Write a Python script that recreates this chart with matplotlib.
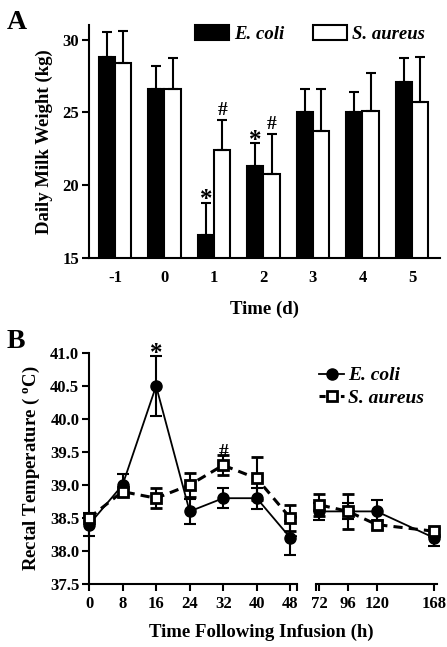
import numpy as np
import matplotlib
matplotlib.use('Agg')
import matplotlib.pyplot as plt
from matplotlib.patches import Patch
from matplotlib.lines import Line2D

plt.rcParams['font.family'] = ['Liberation Serif', 'DejaVu Serif']
plt.rcParams['font.weight'] = 'bold'
plt.rcParams['axes.unicode_minus'] = False
plt.rcParams['mathtext.fontset'] = 'custom'
plt.rcParams['mathtext.rm'] = 'Liberation Serif:bold'
plt.rcParams['mathtext.it'] = 'Liberation Serif:bold'
plt.rcParams['mathtext.bf'] = 'Liberation Serif:bold'

# panel A: daily milk weight
days = [-1, 0, 1, 2, 3, 4, 5]
milk_ecoli = [28.8, 26.6, 16.6, 21.3, 25.0, 25.0, 27.1]
milk_ecoli_err = [1.7, 1.6, 2.2, 1.6, 1.6, 1.4, 1.6]
milk_saureus = [28.4, 26.6, 22.4, 20.8, 23.7, 25.1, 25.7]
milk_saureus_err = [2.2, 2.1, 2.1, 2.7, 2.9, 2.6, 3.1]
star_days = [1, 2]
hash_days = [1, 2]

# panel B: rectal temperature
hours = [0, 8, 16, 24, 32, 40, 48, 72, 96, 120, 168]
temp_ecoli = [38.4, 39.0, 40.5, 38.6, 38.8, 38.8, 38.2, 38.6, 38.6, 38.6, 38.2]
temp_ecoli_err = [0.17, 0.17, 0.45, 0.19, 0.15, 0.16, 0.26, 0.13, 0.12, 0.18, 0.12]
temp_saureus = [38.5, 38.9, 38.8, 39.0, 39.3, 39.1, 38.5, 38.7, 38.6, 38.4, 38.3]
temp_saureus_err = [0.05, 0.05, 0.15, 0.18, 0.15, 0.33, 0.2, 0.17, 0.26, 0.07, 0.05]

W, H = 447, 647
fig = plt.figure(figsize=(W / 100, H / 100), dpi=100)


def box(l, t, r, b):
    return [l / W, 1 - b / H, (r - l) / W, (b - t) / H]


def style(ax):
    for s in ['top', 'right']:
        ax.spines[s].set_visible(False)
    for s in ['left', 'bottom']:
        ax.spines[s].set_linewidth(1.5)
    ax.tick_params(width=1.5, length=5, labelsize=12, pad=2)
    for lab in ax.get_xticklabels() + ax.get_yticklabels():
        lab.set_fontweight('bold')


# ---------- A ----------
axA = fig.add_axes(box(89, 25, 440, 258))
x = np.array(days, dtype=float)
bw = 0.33
axA.bar(x - bw / 2, milk_ecoli, bw, color='black', edgecolor='black', lw=1.5)
axA.bar(x + bw / 2, milk_saureus, bw, color='white', edgecolor='black', lw=1.5)
axA.errorbar(x - bw / 2, milk_ecoli, yerr=[np.zeros(7), milk_ecoli_err], fmt='none',
             ecolor='black', elinewidth=1.5, capsize=3.6, capthick=1.5)
axA.errorbar(x + bw / 2, milk_saureus, yerr=[np.zeros(7), milk_saureus_err], fmt='none',
             ecolor='black', elinewidth=1.5, capsize=3.6, capthick=1.5)
for d in star_days:
    i = days.index(d)
    axA.text(d - bw / 2, milk_ecoli[i] + milk_ecoli_err[i] - 0.6, '*', ha='center', va='bottom',
             fontsize=18, fontweight='bold')
for d in hash_days:
    i = days.index(d)
    axA.text(d + bw / 2, milk_saureus[i] + milk_saureus_err[i] + 0.05, '#', ha='center', va='bottom',
             fontsize=14, fontweight='bold')
axA.set_xlim(-1.525, 5.566)
axA.set_ylim(15, 31)
axA.set_yticks([15, 20, 25, 30])
axA.set_xticks(days)
style(axA)
axA.tick_params(axis='x', length=0, pad=9)
axA.set_xlabel('Time (d)', fontsize=13.5, fontweight='bold', labelpad=10)
axA.set_ylabel('Daily Milk Weight (kg)', fontsize=13.5, fontweight='bold', labelpad=7)
hA = [Patch(facecolor='black', edgecolor='black', lw=1.5),
      Patch(facecolor='white', edgecolor='black', lw=1.5)]
axA.legend(hA, ['E. coli', 'S. aureus'], ncol=2, loc='upper left',
           bbox_to_anchor=(0.302, 1.0), frameon=False, borderpad=0, borderaxespad=0,
           handlelength=1.8, handleheight=0.85, handletextpad=0.3, columnspacing=1.5,
           prop={'family': 'Liberation Serif', 'weight': 'bold', 'style': 'italic', 'size': 13.5})
fig.text(7 / W, 1 - 29 / H, 'A', fontsize=20, fontweight='bold', ha='left', va='baseline')

# ---------- B ----------
ax1 = fig.add_axes(box(89, 353, 297, 584))
ax2 = fig.add_axes(box(316, 353, 437, 584), sharey=ax1)
hrs = np.array(hours, dtype=float)
segs = [(ax1, hrs <= 48, (0, 49.6), [0, 8, 16, 24, 32, 40, 48]),
        (ax2, hrs >= 72, (69.2, 170.5), [72, 96, 120, 168])]
for ax, m, xl, tk in segs:
    ax.plot(hrs, temp_ecoli, '-', color='black', lw=1.3, zorder=2)
    ax.plot(hrs, temp_saureus, '--', color='black', lw=2.2, dashes=(3, 2), zorder=3)
    ax.errorbar(hrs[m], np.array(temp_ecoli)[m], yerr=np.array(temp_ecoli_err)[m], fmt='o',
                color='black', ms=8, elinewidth=1.5, capsize=4.5, capthick=1.5,
                clip_on=False, zorder=4)
    ax.errorbar(hrs[m], np.array(temp_saureus)[m], yerr=np.array(temp_saureus_err)[m], fmt='s',
                color='black', mfc='white', mec='black', mew=2, ms=7, elinewidth=1.5,
                capsize=4.5, capthick=1.5, clip_on=False, zorder=5)
    ax.set_xlim(*xl)
    ax.set_xticks(tk)
    style(ax)
    ax.tick_params(axis='x', pad=4)
    ax.tick_params(axis='x', which='minor', width=1.5, length=5)
ax1.set_ylim(37.5, 41.0)
ax1.set_yticks(np.arange(37.5, 41.01, 0.5))
ax1.set_yticklabels(['%.1f' % v for v in np.arange(37.5, 41.01, 0.5)], fontweight='bold')
ax1.set_xticks([49.6], minor=True)
ax2.set_xticks([69.2], minor=True)
ax2.spines['left'].set_visible(False)
ax2.tick_params(axis='y', left=False, labelleft=False)

i16 = hours.index(16)
ax1.text(16, temp_ecoli[i16] + temp_ecoli_err[i16] - 0.13, '*', ha='center', va='bottom',
         fontsize=18, fontweight='bold')
i32 = hours.index(32)
ax1.text(32, temp_saureus[i32] + 0.07, '#', ha='center', va='bottom',
         fontsize=14, fontweight='bold')

ax1.set_ylabel('Rectal Temperature ( $^{o}$C)', fontsize=13.5, fontweight='bold', labelpad=6)
fig.text(261 / W, 1 - 637 / H, 'Time Following Infusion (h)', fontsize=13.5,
         fontweight='bold', ha='center', va='baseline')
hB = [Line2D([], [], color='black', lw=1.3, marker='o', ms=8),
      Line2D([], [], color='black', lw=2.2, ls='--', dashes=(2, 1.5), marker='s', ms=7,
             mfc='white', mec='black', mew=2)]
fig.legend(hB, ['E. coli', 'S. aureus'], loc='upper right',
           bbox_to_anchor=(434 / W, 1 - 357 / H), frameon=False, borderpad=0,
           handlelength=1.3, handletextpad=0.2, labelspacing=0.25,
           prop={'family': 'Liberation Serif', 'weight': 'bold', 'style': 'italic', 'size': 14})
fig.text(7 / W, 1 - 348 / H, 'B', fontsize=20, fontweight='bold', ha='left', va='baseline')

fig.savefig('out.png', dpi=100)
